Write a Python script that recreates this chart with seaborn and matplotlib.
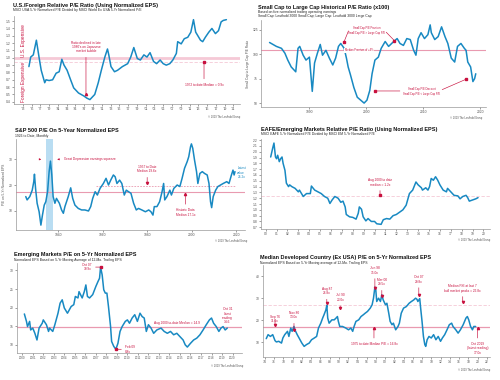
import numpy as np
import pandas as pd
import matplotlib
matplotlib.use("Agg")
import matplotlib.pyplot as plt
import seaborn as sns

# ---------------- DATA ----------------
# Panel 1: U.S./Foreign relative P/E
p1_years = [1974.4, 1974.8, 1975.4, 1976.1, 1976.7, 1977.2, 1978.0, 1978.3, 1979.0, 1979.8, 1980.6, 1981.3,
            1981.9, 1982.4, 1983.1, 1983.9, 1984.6, 1985.7, 1986.9, 1987.6, 1988.3, 1989.4, 1990.2, 1990.9,
            1991.7, 1992.3, 1992.6, 1993.1, 1993.9, 1994.6, 1995.7, 1996.9, 1997.6, 1998.3, 1999.1, 1999.8,
            2000.6, 2001.3, 2002.0, 2002.8, 2003.5, 2004.3, 2005.0, 2005.7, 2006.5, 2007.2, 2008.0, 2008.3,
            2009.1, 2009.8, 2010.6, 2011.3, 2011.9, 2012.4, 2012.8, 2013.5, 2014.0, 2014.6, 2015.4, 2016.1,
            2016.9, 2017.6, 2018.2, 2018.7, 2019.4]
p1_vals = [0.88, 1.01, 1.04, 1.24, 1.01, 0.83, 0.66, 0.70, 0.69, 0.70, 0.79, 0.81,
           0.98, 0.90, 0.83, 0.70, 0.59, 0.52, 0.48, 0.45, 0.43, 0.50, 0.66, 0.83,
           1.01, 1.12, 1.04, 0.88, 0.81, 0.83, 0.88, 0.92, 1.01, 1.14, 0.99, 0.97,
           1.04, 1.01, 1.07, 0.95, 0.92, 0.97, 0.92, 0.90, 0.92, 0.97, 1.06, 1.22,
           1.19, 1.26, 1.28, 1.35, 1.52, 1.35, 1.31, 1.24, 1.22, 1.28, 1.35, 1.40,
           1.33, 1.37, 1.49, 1.51, 1.52]

# Panel 2: Small cap / large cap P/E (x100)
p2_years = [1983.0, 1983.6, 1984.2, 1985.1, 1985.7, 1986.2, 1986.8, 1987.6, 1988.0, 1988.3, 1988.9, 1989.4,
            1990.0, 1990.5, 1990.9, 1991.4, 1991.9, 1992.3, 1992.9, 1993.5, 1994.1, 1994.6, 1995.1, 1995.5,
            1996.1, 1996.5, 1996.8, 1997.2, 1997.8, 1998.4, 1999.0, 1999.6, 2000.1, 2000.6, 2001.0, 2001.5,
            2002.1, 2002.6, 2003.3, 2003.9, 2004.8, 2005.4, 2005.9, 2006.5, 2007.1, 2007.7, 2008.3, 2008.7,
            2009.1, 2009.6, 2010.2, 2010.8, 2011.2, 2011.4, 2012.0, 2012.6, 2013.2, 2013.8, 2014.3, 2014.9,
            2015.5, 2016.0, 2016.6, 2017.2, 2017.5, 2017.8, 2018.3, 2018.7, 2019.0, 2019.2]
p2_vals = [112, 110, 108, 106, 101, 94, 87, 82, 106, 108, 99, 94,
           97, 62, 91, 101, 110, 99, 104, 96, 89, 96, 108, 111,
           106, 96, 87, 79, 66, 56, 53, 50, 53, 63, 80, 94,
           97, 106, 113, 108, 113, 116, 111, 109, 116, 115, 104, 99,
           116, 122, 116, 120, 130, 122, 115, 118, 128, 118, 111, 96,
           92, 108, 111, 106, 104, 92, 87, 72, 75, 80]
p2_median = 104

# Panel 3: S&P 500 P/E on 5-yr normalized EPS
p3_years = [1925.4, 1926.0, 1927.2, 1928.3, 1929.0, 1929.3, 1929.8, 1930.5, 1931.4, 1932.2, 1932.9, 1933.7,
            1934.4, 1935.2, 1935.9, 1936.5, 1937.1, 1937.7, 1938.5, 1939.2, 1940.5, 1941.5, 1942.3, 1943.0,
            1944.5, 1945.6, 1946.5, 1947.5, 1949.0, 1950.5, 1952.0, 1953.6, 1954.6, 1955.5, 1956.6, 1957.6,
            1958.8, 1960.3, 1961.5, 1962.6, 1963.6, 1964.8, 1965.6, 1966.4, 1967.6, 1968.6, 1969.7, 1970.6,
            1971.6, 1972.7, 1973.9, 1975.1, 1976.1, 1977.6, 1979.2, 1980.7, 1981.7, 1982.6, 1983.2, 1984.4,
            1985.6, 1986.7, 1987.4, 1987.9, 1988.9, 1990.2, 1990.9, 1992.0, 1993.5, 1994.7, 1995.7, 1996.8,
            1998.0, 1998.7, 1999.5, 1999.9, 2000.5, 2001.3, 2002.2, 2002.8, 2003.7, 2004.8, 2005.8, 2007.0,
            2007.8, 2008.5, 2009.0, 2009.7, 2010.8, 2011.8, 2013.0, 2014.2, 2015.8, 2016.8, 2017.9, 2018.6,
            2019.1, 2019.5]
p3_vals = [15.5, 14.2, 15.5, 18.0, 21.3, 24.2, 18.7, 12.9, 9.6, 4.4, 8.3, 12.2,
           13.5, 17.4, 25.2, 29.3, 23.9, 15.5, 12.9, 14.8, 12.9, 10.3, 9.0, 11.6,
           15.5, 18.9, 14.8, 12.2, 10.9, 10.3, 10.3, 9.9, 11.6, 14.8, 17.4, 16.1,
           18.7, 20.6, 22.6, 20.0, 21.9, 23.9, 23.2, 20.6, 21.9, 20.6, 16.1, 18.0,
           17.4, 16.8, 12.9, 10.3, 10.9, 10.3, 9.6, 10.3, 9.6, 8.3, 11.6, 11.6,
           13.5, 17.4, 20.6, 14.2, 15.5, 18.0, 16.1, 18.7, 20.0, 19.4, 22.6, 26.5,
           29.1, 31.0, 34.9, 36.0, 34.3, 29.7, 25.2, 20.6, 24.5, 25.2, 24.5, 23.9,
           20.6, 13.5, 11.2, 15.5, 18.0, 19.4, 20.0, 20.6, 21.3, 20.6, 23.9, 25.8,
           23.9, 25.2]
p3_median_all = 17.1
p3_median_1957 = 19.6
p3_band = [1934.3, 1937.5]

# Panel 4: EAFE / EM relative P/E
p4_years = [2000.46, 2000.64, 2000.76, 2000.9, 2001.0, 2001.1, 2001.25, 2001.37, 2001.5, 2001.6, 2001.77, 2001.9,
            2002.1, 2002.2, 2002.4, 2002.7, 2003.0, 2003.1, 2003.45, 2003.75, 2004.1, 2004.2, 2004.5, 2004.8,
            2005.1, 2005.4, 2005.7, 2005.9, 2006.1, 2006.35, 2006.65, 2006.9, 2007.1, 2007.3, 2007.4, 2007.7,
            2008.0, 2008.3, 2008.5, 2008.6, 2008.8, 2008.95, 2009.2, 2009.4, 2009.7, 2010.0, 2010.2, 2010.6,
            2010.8, 2011.1, 2011.4, 2011.7, 2012.0, 2012.3, 2012.6, 2012.9, 2013.2, 2013.5, 2013.8, 2014.0,
            2014.3, 2014.4, 2014.7, 2014.9, 2015.05, 2015.2, 2015.4, 2015.6, 2015.8, 2016.0, 2016.3, 2016.6,
            2016.7, 2017.0, 2017.3, 2017.65, 2017.85, 2018.1, 2018.4, 2018.55, 2018.7, 2019.0, 2019.3, 2019.5]
p4_vals = [1.91, 2.06, 2.15, 1.91, 1.88, 1.94, 1.83, 1.88, 1.91, 1.80, 1.68, 1.46,
           1.40, 1.43, 1.40, 1.37, 1.31, 1.34, 1.23, 1.28, 1.28, 1.41, 1.34, 1.31,
           1.28, 1.23, 1.20, 1.11, 1.17, 1.23, 1.20, 1.13, 1.15, 1.05, 0.92, 0.88,
           0.87, 0.84, 0.94, 1.05, 1.01, 0.88, 0.81, 0.85, 0.80, 0.80, 0.76, 0.75,
           0.83, 0.85, 0.84, 0.90, 0.92, 0.96, 1.00, 1.08, 1.28, 1.34, 1.48, 1.43,
           1.38, 1.34, 1.38, 1.34, 1.40, 1.54, 1.51, 1.57, 1.51, 1.43, 1.34, 1.31,
           1.37, 1.31, 1.25, 1.24, 1.19, 1.23, 1.25, 1.21, 1.15, 1.17, 1.19, 1.21]
p4_median = 1.24

# Panel 5: Emerging markets P/E
p5_years = [2000.2, 2000.4, 2000.5, 2000.7, 2000.8, 2001.0, 2001.2, 2001.4, 2001.6, 2001.9, 2002.0, 2002.3,
            2002.5, 2002.6, 2002.9, 2003.1, 2003.4, 2003.6, 2003.8, 2004.0, 2004.3, 2004.65, 2004.9, 2005.05,
            2005.3, 2005.4, 2005.7, 2005.9, 2006.05, 2006.2, 2006.4, 2006.7, 2007.0, 2007.2, 2007.35, 2007.45,
            2007.6, 2007.75, 2007.9, 2008.05, 2008.2, 2008.4, 2008.5, 2008.7, 2008.9, 2009.1, 2009.3, 2009.5,
            2009.8, 2010.0, 2010.2, 2010.45, 2010.7, 2010.95, 2011.2, 2011.4, 2011.6, 2011.8, 2012.0, 2012.25,
            2012.5, 2012.8, 2013.2, 2013.5, 2013.8, 2014.1, 2014.4, 2014.7, 2015.0, 2015.3, 2015.5, 2015.7,
            2016.0, 2016.3, 2016.6, 2016.9, 2017.2, 2017.5, 2017.8, 2018.0, 2018.2, 2018.45, 2018.7, 2018.9,
            2019.1, 2019.3, 2019.5]
p5_vals = [18.3, 16.3, 14.9, 16.3, 14.0, 14.5, 13.1, 11.3, 14.5, 15.8, 16.7, 15.4,
           13.6, 14.5, 13.6, 15.4, 18.5, 21.2, 22.1, 19.9, 18.5, 20.3, 20.8, 23.0,
           22.6, 24.3, 22.6, 24.3, 26.1, 23.0, 22.6, 23.5, 25.7, 27.0, 27.9, 30.9,
           28.8, 24.8, 23.9, 23.9, 20.3, 14.9, 10.9, 9.6, 8.8, 10.4, 13.6, 14.9,
           16.3, 16.7, 15.8, 17.2, 18.1, 16.3, 18.5, 17.6, 17.2, 13.6, 15.4, 14.5,
           13.1, 14.0, 14.5, 13.6, 13.1, 13.6, 12.7, 13.1, 12.2, 11.3, 10.0, 9.4,
           10.4, 11.3, 11.8, 12.7, 14.0, 15.4, 16.7, 17.2, 15.8, 14.9, 13.6, 14.5,
           14.9, 14.0, 14.5]
p5_median = 14.9

# Panel 6: Median developed country (ex USA) P/E
p6_years = [1974.3, 1974.7, 1975.2, 1975.7, 1976.2, 1976.5, 1977.0, 1977.6, 1977.9, 1978.3, 1978.9, 1979.2,
            1979.6, 1979.9, 1980.3, 1980.5, 1981.0, 1981.4, 1982.0, 1982.5, 1983.0, 1983.6, 1984.1, 1984.7,
            1985.2, 1985.6, 1986.1, 1986.5, 1986.8, 1987.2, 1987.4, 1987.6, 1987.9, 1988.5, 1989.0, 1989.4,
            1989.7, 1989.9, 1990.2, 1990.8, 1991.5, 1992.1, 1992.6, 1993.0, 1993.3, 1993.7, 1994.3, 1994.8,
            1995.3, 1995.7, 1996.2, 1996.8, 1997.2, 1997.5, 1997.8, 1998.0, 1998.2, 1998.6, 1999.0, 1999.3,
            1999.6, 2000.1, 2000.4, 2000.8, 2001.1, 2001.5, 2001.8, 2002.3, 2002.8, 2003.1, 2003.5, 2004.0,
            2004.6, 2005.2, 2005.7, 2006.2, 2006.6, 2006.9, 2007.1, 2007.5, 2007.7, 2008.0, 2008.3, 2008.6,
            2008.8, 2009.1, 2009.5, 2010.0, 2010.5, 2011.0, 2011.5, 2012.0, 2012.4, 2012.9, 2013.4, 2013.9,
            2014.4, 2014.7, 2015.3, 2015.8, 2016.3, 2016.9, 2017.5, 2017.8, 2018.1, 2018.5, 2018.9, 2019.2,
            2019.6]
p6_vals = [11.7, 13.5, 12.7, 13.5, 10.8, 10.2, 10.5, 9.7, 12.0, 13.5, 15.0, 12.7,
           16.5, 15.0, 17.2, 15.7, 13.5, 12.0, 9.7, 8.2, 9.0, 9.7, 11.2, 12.0,
           12.7, 16.5, 18.7, 21.0, 22.5, 24.7, 26.8, 21.0, 18.7, 20.2, 20.2, 21.0,
           21.7, 19.5, 17.2, 17.2, 16.5, 15.7, 16.5, 15.0, 17.2, 19.5, 20.2, 21.7,
           22.5, 23.2, 24.0, 25.5, 27.0, 30.0, 35.0, 33.7, 28.5, 30.0, 28.5, 31.5,
           29.2, 27.0, 27.7, 23.2, 19.5, 18.0, 18.7, 15.7, 17.2, 18.7, 23.2, 25.5,
           26.2, 27.7, 28.5, 29.2, 30.0, 29.5, 28.5, 29.8, 25.5, 19.5, 12.7, 9.0,
           8.2, 11.2, 12.7, 12.0, 13.5, 11.2, 12.7, 10.5, 12.0, 13.5, 15.7, 18.0,
           18.7, 17.2, 15.7, 14.2, 15.7, 18.0, 21.0, 21.7, 20.2, 17.2, 15.7, 17.2,
           17.2]
p6_median = 17.0
p6_peak_median = 26.8

# ---------------- STYLE ----------------
sns.set_style("ticks")
plt.rcParams['font.family'] = ['Liberation Sans', 'DejaVu Sans']

BLUE = "#1889c2"
RED = "#c8103e"
PINK = "#e99ab0"
LPINK = "#f5c9d6"
GRAY = "#555555"
TFS = 4.0   # title
SFS = 2.4   # subtitle
KFS = 2.4   # ticks
AFS = 2.3   # annotations

W, H = 500, 380
fig = plt.figure(figsize=(5, 3.8), dpi=100)


def axes_px(l, t, r, b):
    ax = fig.add_axes([l / W, 1 - b / H, (r - l) / W, (b - t) / H])
    sns.despine(ax=ax)
    for s in ("left", "bottom"):
        ax.spines[s].set_color("#999999")
        ax.spines[s].set_linewidth(0.5)
    ax.tick_params(axis="both", labelsize=KFS, colors=GRAY, length=1.2, width=0.4, pad=1)
    ax.set_facecolor("white")
    return ax


def ftext(x, y, s, **kw):
    fig.text(x / W, 1 - y / H, s, **kw)


def titles(x, y, title, subs, sub_dy=5.0):
    ftext(x, y, title, fontsize=TFS, fontweight="bold", va="center", ha="left", color="#111111")
    for i, s in enumerate(subs):
        ftext(x, y + sub_dy * (i + 1), s, fontsize=SFS, va="center", ha="left", color="#222222")


def copyright(x, y):
    ftext(x, y, "© 2019 The Leuthold Group", fontsize=1.9, ha="right", va="center", color=GRAY)


def line(ax, xs, ys):
    sns.lineplot(x=xs, y=ys, ax=ax, color=BLUE, linewidth=1.1, estimator=None, sort=False)


def ann(ax, text, xy, xytext, va="bottom", ha="center", marker="s", color=RED):
    ax.annotate(text, xy=xy, xytext=xytext, fontsize=AFS, color=color, ha=ha, va=va,
                linespacing=1.15,
                arrowprops=dict(arrowstyle="-", color=color, lw=0.45, shrinkA=0.5, shrinkB=0))
    if marker:
        ax.plot([xy[0]], [xy[1]], marker=marker, color=color, markersize=1.6, zorder=5)


# ---------------- PANEL 1 ----------------
ax1 = axes_px(14, 16, 240, 104)
ax1.axhline(1.0, color=LPINK, lw=2.0, zorder=1)
ax1.axhline(0.945, color=LPINK, lw=0.6, ls=(0, (4, 2)), zorder=1)
line(ax1, p1_years, p1_vals)
ax1.set_xlim(1971, 2022.5)
ax1.set_ylim(0.37, 1.57)
ax1.set_yticks(np.round(np.arange(0.4, 1.51, 0.1), 1))
ax1.set_yticklabels([f"{v:.1f}" for v in np.arange(0.4, 1.51, 0.1)])
yrs1 = list(range(1973, 2022, 2))
ax1.set_xticks(yrs1)
ax1.set_xticklabels([f"'{y % 100:02d}" for y in yrs1])
ax1.text(1973.2, 1.24, "U.S. Expensive", rotation=90, fontsize=3.4, color=RED, ha="center", va="center")
ax1.text(1973.2, 0.67, "Foreign Expensive", rotation=90, fontsize=3.4, color=RED, ha="center", va="center")
ann(ax1, "Ratio declined in late\n1980's on Japanese\nmarket bubble", (1987.4, 0.50), (1987.4, 1.06), va="bottom", marker="^")
ann(ax1, "1972 to date Median = 0.9x", (2014.3, 0.945), (2014.3, 0.66), va="top")
titles(13, 5, "U.S./Foreign Relative P/E Ratio (Using Normalized EPS)",
       ["MSCI USA 5-Yr Normalized P/E Divided by MSCI World Ex USA 5-Yr Normalized P/E"], sub_dy=5.5)
copyright(240, 117)

# ---------------- PANEL 2 ----------------
ax2 = axes_px(261, 20, 486, 107)
ax2.axhline(p2_median, color=PINK, lw=0.8, zorder=1)
line(ax2, p2_years, p2_vals)
ax2.set_xlim(1981.5, 2021)
ax2.set_ylim(46, 135)
ax2.set_yticks([50, 75, 100, 125])
ax2.set_xticks([1990, 2000, 2010, 2020])
ax2.set_ylabel("Small Cap to Large Cap P/E Ratio", fontsize=2.3, color=GRAY, labelpad=2)
ax2.text(1998.7, 104, "Median Premium of +4%", fontsize=1.9, color=RED, ha="center", va="center",
         bbox=dict(facecolor="white", edgecolor="none", pad=0.3))
ax2.text(2000.1, 124.5, "Small Cap P/E Premium\nSmall Cap P/E > Large Cap P/E", fontsize=1.9,
         color=RED, ha="center", va="center", linespacing=1.2)
ann(ax2, "", (1996.1, 113), (1996.9, 124.5), marker="s")
ann(ax2, "", (2004.9, 114), (2003.4, 123), marker="s")
ax2.text(2009.7, 62, "Small Cap P/E Discount\nSmall Cap P/E < Large Cap P/E", fontsize=1.9,
         color=RED, ha="center", va="center", linespacing=1.2)
ann(ax2, "", (2001.6, 62.4), (2006.0, 62.4), marker="s")
ann(ax2, "", (2017.5, 74.4), (2013.2, 63.5), marker="s")
titles(258, 7, "Small Cap to Large Cap Historical P/E Ratio (x100)",
       ["Based on five normalized trailing operating earnings",
        "Small Cap: Leuthold 3000 Small Cap; Large Cap: Leuthold 3000 Large Cap"], sub_dy=4.5)
copyright(482, 118)

# ---------------- PANEL 3 ----------------
ax3 = axes_px(16, 139, 245, 230)
ax3.axvspan(p3_band[0], p3_band[1], color="#b9ddf2", zorder=0, lw=0)
ax3.axhline(p3_median_all, color=PINK, lw=0.8, zorder=1)
ax3.plot([1957, 2020], [p3_median_1957, p3_median_1957], color=PINK, lw=0.6, ls=(0, (2, 1.5)), zorder=1)
line(ax3, p3_years, p3_vals)
ax3.set_xlim(1921, 2024)
ax3.set_ylim(2.5, 37.9)
ax3.set_yticks([10, 20, 30])
ax3.set_xticks([1940, 1960, 1980, 2000, 2020])
ax3.set_ylabel("P/E on 5-Yr Normalized EPS", fontsize=2.3, color=GRAY, labelpad=2)
ax3.annotate("", xy=(1933.6, 30), xytext=(1930.3, 30),
             arrowprops=dict(arrowstyle="-|>", color=RED, lw=0.45, mutation_scale=2.5))
ax3.annotate("", xy=(1938.3, 30), xytext=(1941.6, 30),
             arrowprops=dict(arrowstyle="-|>", color=RED, lw=0.45, mutation_scale=2.5))
ax3.text(1942.6, 30, "Great Depression earnings squeeze", fontsize=AFS, color=RED, ha="left", va="center")
ann(ax3, "1957 to Date\nMedian 19.6x", (1980.0, 20.6), (1980.0, 24.5), va="bottom", marker="v")
ann(ax3, "Historic Data\nMedian 17.1x", (1997.2, 16.5), (1997.2, 11.0), va="top", marker="^")
ax3.text(2020.6, 24.8, "Latest\nvalue\n25.2x", fontsize=AFS, color=BLUE, ha="left", va="center", linespacing=1.15)
titles(15, 130.5, "S&P 500 P/E On 5-Year Normalized EPS", ["1926 to Date, Monthly"], sub_dy=5.2)
copyright(247, 241)

# ---------------- PANEL 4 ----------------
ax4 = axes_px(261, 139, 490, 229)
ax4.axhline(p4_median, color=LPINK, lw=0.6, ls=(0, (4, 2)), zorder=1)
line(ax4, p4_years, p4_vals)
ax4.set_xlim(1999.57, 2020.6)
ax4.set_ylim(0.67, 2.22)
yt4 = np.round(np.arange(0.7, 2.21, 0.1), 1)
ax4.set_yticks(yt4)
ax4.set_yticklabels([f"{v:.1f}" for v in yt4])
yrs4 = list(range(2000, 2021))
ax4.set_xticks(yrs4)
ax4.set_xticklabels([f"{y % 100:02d}" for y in yrs4])
ann(ax4, "Aug 2000 to date\nmedian = 1.2x", (2010.5, 1.255), (2010.5, 1.40), va="bottom", marker="s")
titles(261, 129.5, "EAFE/Emerging Markets Relative P/E Ratio (Using Normalized EPS)",
       ["MSCI EAFE 5-Yr Normalized P/E Divided by MSCI EM 5-Yr Normalized P/E"], sub_dy=5.0)
copyright(490, 240)

# ---------------- PANEL 5 ----------------
ax5 = axes_px(17, 263, 242, 353)
ax5.axhline(p5_median, color=PINK, lw=0.9, zorder=1)
line(ax5, p5_years, p5_vals)
ax5.set_xlim(1999.5, 2020.9)
ax5.set_ylim(7.8, 32)
ax5.set_yticks([10, 15, 20, 25, 30])
yrs5 = list(range(2000, 2021))
ax5.set_xticks(yrs5)
ax5.set_xticklabels([str(y) for y in yrs5], fontsize=2.1)
ax5.text(2016.9, 15.9, "Aug 2000 to-date Median = 14.9", fontsize=AFS, color=RED, ha="right", va="center")
ann(ax5, "Oct 07\n30.9x", (2007.45, 30.9), (2006.6, 30.9), va="center", ha="right", marker="s")
ann(ax5, "Feb 09\n8.8x", (2008.95, 8.8), (2009.8, 8.8), va="center", ha="left", marker="s")
ax5.text(2019.5, 17.8, "Oct 31\nlatest\nreading\n14.6", fontsize=AFS, color=RED, ha="center", va="center",
         linespacing=1.15)
titles(14, 254.5, "Emerging Markets P/E on 5-Yr Normalized EPS",
       ["Normalized EPS Based on 5-Yr Moving Average of 12-Mo. Trailing EPS"], sub_dy=5.0)
copyright(243, 366)

# ---------------- PANEL 6 ----------------
ax6 = axes_px(263, 265, 490, 357)
ax6.axhline(p6_median, color=PINK, lw=0.9, zorder=1)
ax6.axhline(p6_peak_median, color=LPINK, lw=0.6, ls=(0, (4, 2)), zorder=1)
line(ax6, p6_years, p6_vals)
ax6.set_xlim(1973.6, 2022.7)
ax6.set_ylim(3.4, 45)
ax6.set_yticks([10, 20, 30, 40])
yrs6 = list(range(1974, 2023, 2))
ax6.set_xticks(yrs6)
ax6.set_xticklabels([f"{y % 100:02d}" for y in yrs6])
ann(ax6, "Sep 76\n11.0x", (1976.2, 17.9), (1976.2, 18.6), va="bottom", marker="v")
ann(ax6, "Nov 80\n13.0x", (1980.3, 15.4), (1980.3, 20.4), va="bottom", marker="v")
ann(ax6, "Aug 87\n26.8x", (1987.4, 27.6), (1987.4, 31.3), va="bottom", marker="v")
ann(ax6, "Jul 90\n23.0x", (1990.3, 25.4), (1990.3, 28.3), va="bottom", marker="v")
ann(ax6, "Jun 98\n35.0x", (1997.8, 34.6), (1997.8, 40.6), va="bottom", marker="v")
ann(ax6, "Mar 00\n29.5x", (1999.3, 30.8), (1999.3, 35.3), va="bottom", marker="v")
ann(ax6, "Oct 07\n29.8x", (2007.3, 31.5), (2007.3, 36.5), va="bottom", marker="v")
ann(ax6, "Median P/E at last 7\nbull market peaks = 26.8x", (2016.8, 28.3), (2016.8, 32.5), va="bottom", marker="v")
ann(ax6, "1975 to date Median P/E = 16.8x", (1997.6, 16.5), (1997.6, 10.2), va="top", marker="^")
ann(ax6, "Oct 2019\n(latest reading)\n17.0x", (2020.0, 16.5), (2020.0, 10.2), va="top", marker="^")
titles(260, 257.5, "Median Developed Country (Ex USA) P/E on 5-Yr Normalized EPS",
       ["Normalized EPS Based on 5-Yr Moving average of 12-Mo. Trailing EPS"], sub_dy=5.2)
copyright(490, 370)

fig.savefig("out.png", dpi=100, facecolor="white")
